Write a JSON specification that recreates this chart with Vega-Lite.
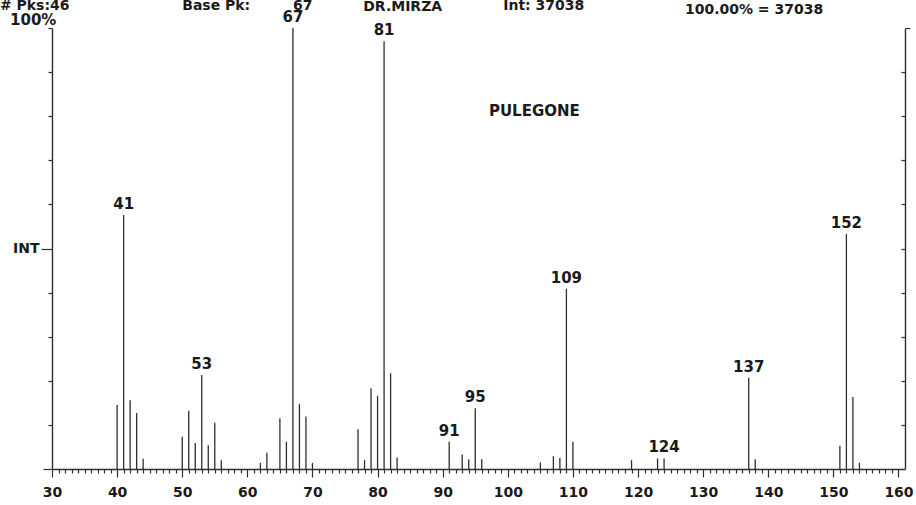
{
  "$schema": "https://vega.github.io/schema/vega-lite/v6.json",
  "width": 853,
  "height": 441,
  "autosize": {"type": "none"},
  "padding": {"left": 52, "top": 28, "right": 11, "bottom": 36},
  "background": "white",
  "config": {"view": {"stroke": null}, "font": "DejaVu Sans", "axis": {"grid": false, "title": null, "domainColor": "#2e2e2e", "domainWidth": 1.4, "tickColor": "#2e2e2e", "tickWidth": 1.2, "labelFont": "DejaVu Sans", "labelFontWeight": "bold", "labelFontSize": 14, "labelColor": "#1a1a1a"}},
  "datasets": {
    "peaks": [
      {"mz": 40, "int": 14.5, "lab": ""},
      {"mz": 41, "int": 57.6, "lab": "41"},
      {"mz": 42, "int": 15.6, "lab": ""},
      {"mz": 43, "int": 12.7, "lab": ""},
      {"mz": 44, "int": 2.3, "lab": ""},
      {"mz": 50, "int": 7.3, "lab": ""},
      {"mz": 51, "int": 13.2, "lab": ""},
      {"mz": 52, "int": 5.9, "lab": ""},
      {"mz": 53, "int": 21.3, "lab": "53"},
      {"mz": 54, "int": 5.4, "lab": ""},
      {"mz": 55, "int": 10.5, "lab": ""},
      {"mz": 56, "int": 2.0, "lab": ""},
      {"mz": 62, "int": 1.4, "lab": ""},
      {"mz": 63, "int": 3.7, "lab": ""},
      {"mz": 65, "int": 11.5, "lab": ""},
      {"mz": 66, "int": 6.2, "lab": ""},
      {"mz": 67, "int": 100, "lab": "67"},
      {"mz": 68, "int": 14.7, "lab": ""},
      {"mz": 69, "int": 11.9, "lab": ""},
      {"mz": 70, "int": 1.4, "lab": ""},
      {"mz": 77, "int": 9.0, "lab": ""},
      {"mz": 78, "int": 2.0, "lab": ""},
      {"mz": 79, "int": 18.3, "lab": ""},
      {"mz": 80, "int": 16.6, "lab": ""},
      {"mz": 81, "int": 97, "lab": "81"},
      {"mz": 82, "int": 21.7, "lab": ""},
      {"mz": 83, "int": 2.6, "lab": ""},
      {"mz": 91, "int": 6.2, "lab": "91"},
      {"mz": 93, "int": 3.3, "lab": ""},
      {"mz": 94, "int": 2.2, "lab": ""},
      {"mz": 95, "int": 13.8, "lab": "95"},
      {"mz": 96, "int": 2.2, "lab": ""},
      {"mz": 105, "int": 1.5, "lab": ""},
      {"mz": 107, "int": 2.9, "lab": ""},
      {"mz": 108, "int": 2.5, "lab": ""},
      {"mz": 109, "int": 40.9, "lab": "109"},
      {"mz": 110, "int": 6.2, "lab": ""},
      {"mz": 119, "int": 2.0, "lab": ""},
      {"mz": 123, "int": 2.4, "lab": ""},
      {"mz": 124, "int": 2.4, "lab": "124"},
      {"mz": 137, "int": 20.7, "lab": "137"},
      {"mz": 138, "int": 2.2, "lab": ""},
      {"mz": 151, "int": 5.3, "lab": ""},
      {"mz": 152, "int": 53.3, "lab": "152"},
      {"mz": 153, "int": 16.3, "lab": ""},
      {"mz": 154, "int": 1.4, "lab": ""}
    ],
    "one": [{"k": 1}]
  },
  "data": {"name": "peaks"},
  "resolve": {"axis": {"x": "independent", "y": "independent"}},
  "layer": [
    {
      "mark": {"type": "rule", "color": "#2e2e2e", "strokeWidth": 1.3},
      "encoding": {
        "x": {
          "field": "mz", "type": "quantitative",
          "scale": {"domain": [30, 161], "nice": false, "zero": false},
          "axis": {
            "orient": "bottom",
            "values": [30,40,50,60,70,80,90,100,110,120,130,140,150,160],
            "tickSize": 8,
            "labelOverlap": false,
            "labelFlush": false,
            "labelBound": false,
            "labelPadding": 8
          }
        },
        "y": {
          "field": "int", "type": "quantitative",
          "scale": {"domain": [0, 100], "nice": false, "zero": true},
          "axis": {
            "orient": "left",
            "values": [10,20,30,40,60,70,80,90,100],
            "tickSize": 4,
            "labels": false
          }
        },
        "y2": {"datum": 0}
      }
    },
    {
      "transform": [{"filter": "datum.lab !== ''"}],
      "mark": {"type": "text", "font": "DejaVu Sans", "fontWeight": "bold", "fontSize": 15, "color": "#1a1a1a", "baseline": "bottom", "align": "center", "dy": -3},
      "encoding": {
        "x": {
          "field": "mz", "type": "quantitative",
          "axis": {
            "orient": "bottom",
            "values": [31,32,33,34,35,36,37,38,39,41,42,43,44,45,46,47,48,49,51,52,53,54,55,56,57,58,59,61,62,63,64,65,66,67,68,69,71,72,73,74,75,76,77,78,79,81,82,83,84,85,86,87,88,89,91,92,93,94,95,96,97,98,99,101,102,103,104,105,106,107,108,109,111,112,113,114,115,116,117,118,119,121,122,123,124,125,126,127,128,129,131,132,133,134,135,136,137,138,139,141,142,143,144,145,146,147,148,149,151,152,153,154,155,156,157,158,159],
            "tickSize": 4,
            "labels": false,
            "domain": false
          }
        },
        "y": {
          "field": "int", "type": "quantitative",
          "axis": {
            "orient": "right",
            "values": [10,20,30,40,50,60,70,80,90],
            "tickSize": -4,
            "labels": false
          }
        },
        "text": {"field": "lab"}
      }
    },
    {
      "data": {"name": "one"},
      "mark": {"type": "text", "font": "DejaVu Sans", "fontWeight": "bold", "fontSize": 15, "color": "#1a1a1a", "align": "left", "baseline": "alphabetic", "text": "100%"},
      "encoding": {
        "x": {"datum": 23.55, "axis": null},
        "y": {"datum": 100.7, "axis": {"orient": "left", "values": [50], "tickSize": 11, "labelExpr": "'INT'", "labelPadding": 2, "domain": false}}
      }
    },
    {
      "data": {"name": "one"},
      "mark": {"type": "text", "font": "DejaVu Sans", "fontWeight": "bold", "fontSize": 15, "color": "#1a1a1a", "align": "left", "baseline": "alphabetic", "text": "PULEGONE"},
      "encoding": {
        "x": {"datum": 97.1, "axis": null},
        "y": {"datum": 80.0, "axis": {"orient": "left", "values": [0], "tickSize": 9, "labels": false, "domain": false}}
      }
    },
    {
      "data": {"name": "one"},
      "mark": {"type": "text", "font": "DejaVu Sans", "fontWeight": "bold", "fontSize": 14, "color": "#1a1a1a", "align": "left", "baseline": "alphabetic", "text": "DR.MIRZA"},
      "encoding": {
        "x": {"datum": 77.8, "axis": null},
        "y": {"datum": 103.85, "axis": {"orient": "right", "values": [100], "tickSize": 5, "labels": false, "domain": false}}
      }
    },
    {
      "data": {"name": "one"},
      "mark": {"type": "text", "font": "DejaVu Sans", "fontWeight": "bold", "fontSize": 14, "color": "#1a1a1a", "align": "left", "baseline": "alphabetic", "text": "# Pks:46"},
      "encoding": {"x": {"datum": 22.0, "axis": null}, "y": {"datum": 104.0, "axis": null}}
    },
    {
      "data": {"name": "one"},
      "mark": {"type": "text", "font": "DejaVu Sans", "fontWeight": "bold", "fontSize": 14, "color": "#1a1a1a", "align": "left", "baseline": "alphabetic", "text": "Base Pk:"},
      "encoding": {"x": {"datum": 50, "axis": null}, "y": {"datum": 104.0, "axis": null}}
    },
    {
      "data": {"name": "one"},
      "mark": {"type": "text", "font": "DejaVu Sans", "fontWeight": "bold", "fontSize": 14, "color": "#1a1a1a", "align": "left", "baseline": "alphabetic", "text": "67"},
      "encoding": {"x": {"datum": 67, "axis": null}, "y": {"datum": 104.0, "axis": null}}
    },
    {
      "data": {"name": "one"},
      "mark": {"type": "text", "font": "DejaVu Sans", "fontWeight": "bold", "fontSize": 14, "color": "#1a1a1a", "align": "left", "baseline": "alphabetic", "text": "Int: 37038"},
      "encoding": {"x": {"datum": 99.3, "axis": null}, "y": {"datum": 104.0, "axis": null}}
    },
    {
      "data": {"name": "one"},
      "mark": {"type": "text", "font": "DejaVu Sans", "fontWeight": "bold", "fontSize": 14, "color": "#1a1a1a", "align": "left", "baseline": "alphabetic", "text": "100.00% = 37038"},
      "encoding": {"x": {"datum": 127.2, "axis": null}, "y": {"datum": 103.2, "axis": null}}
    }
  ]
}
